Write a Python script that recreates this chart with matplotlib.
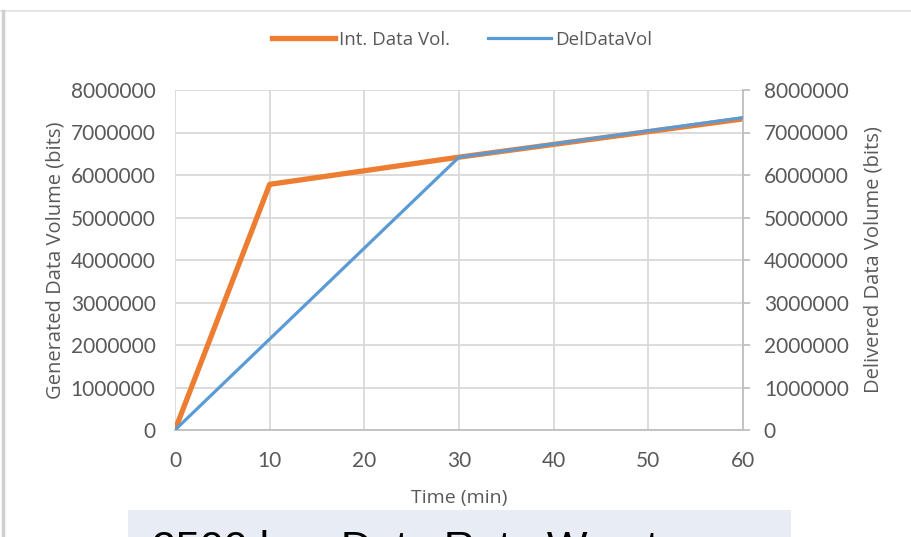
import matplotlib
matplotlib.use("Agg")
import matplotlib.pyplot as plt
from matplotlib.lines import Line2D
from matplotlib.patches import Rectangle

# Time axis (minutes) and cumulative data volumes (bits)
time_generated = [0, 10, 30, 60]
generated_volume = [0, 5780000, 6420000, 7320000]

time_delivered = [0, 30, 60]
delivered_volume = [0, 6420000, 7350000]

x_ticks = [0, 10, 20, 30, 40, 50, 60]
y_ticks = [0, 1000000, 2000000, 3000000, 4000000, 5000000, 6000000, 7000000, 8000000]

ORANGE = "#ED7D31"
BLUE = "#5B9BD5"
GRID = "#D9D9D9"
TEXT = "#595959"
LABEL_FONT = ["Open Sans", "DejaVu Sans"]

plt.rcParams["font.family"] = ["Lato", "DejaVu Sans"]

W, H = 912, 537
fig = plt.figure(figsize=(W / 100, H / 100), dpi=100)
fig.patch.set_facecolor("white")

left, right, bottom, top = 175, 743, 430, 90
ax = fig.add_axes([left / W, 1 - bottom / H, (right - left) / W, (bottom - top) / H])
ax2 = ax.twinx()

ax.plot(time_generated, generated_volume, color=ORANGE, lw=3.8,
        solid_joinstyle="round", solid_capstyle="butt", label="Int. Data Vol.", zorder=3)
ax2.plot(time_delivered, delivered_volume, color=BLUE, lw=2.3,
         solid_joinstyle="round", solid_capstyle="butt", label="DelDataVol", zorder=3)

for a in (ax, ax2):
    a.set_xlim(0, 60)
    a.set_ylim(0, 8000000)
    a.set_yticks(y_ticks)
    a.set_yticklabels([str(v) for v in y_ticks])
    for s in a.spines.values():
        s.set_visible(False)

ax.set_xticks(x_ticks)
ax.set_xticklabels([str(v) for v in x_ticks])
ax.grid(True, color=GRID, lw=1.3)
ax.set_axisbelow(True)
ax.spines["bottom"].set_visible(True)
ax.spines["bottom"].set_color("#BFBFBF")
ax.spines["bottom"].set_linewidth(1.3)
ax.tick_params(axis="x", length=0, pad=15, labelsize=15, labelcolor=TEXT)
ax.tick_params(axis="y", length=0, pad=14, labelsize=15, labelcolor=TEXT)

ax2.spines["right"].set_visible(True)
ax2.spines["right"].set_color("#BFBFBF")
ax2.spines["right"].set_linewidth(1.3)
ax2.tick_params(axis="y", length=5, width=1.3, color="#BFBFBF", pad=10,
                labelsize=15, labelcolor=TEXT)

ax.set_xlabel("Time (min)", fontsize=14, color=TEXT, labelpad=13, family=LABEL_FONT)
ax.set_ylabel("Generated Data Volume (bits)", fontsize=14.5, color=TEXT, labelpad=4,
              family=LABEL_FONT)
ax2.set_ylabel("Delivered Data Volume (bits)", fontsize=14.5, color=TEXT, labelpad=11,
               family=LABEL_FONT)

handles = [Line2D([], [], color=ORANGE, lw=3.8), Line2D([], [], color=BLUE, lw=2.3)]
fig.legend(handles, ["Int. Data Vol.", "DelDataVol"], loc="center",
           bbox_to_anchor=(462 / W, 1 - 40 / H), ncol=2, frameon=False,
           prop={"family": LABEL_FONT, "size": 13.5}, labelcolor=TEXT,
           handlelength=3.4, handletextpad=0.2, columnspacing=2.0)

# Slide frame edges
fig.add_artist(Line2D([0, 1], [1 - 11 / H, 1 - 11 / H], transform=fig.transFigure,
                      color="#E0E0E0", lw=1.2))
fig.add_artist(Line2D([3 / W, 3 / W], [0, 1 - 11 / H], transform=fig.transFigure,
                      color="#D0D0D0", lw=2.5))

# Caption box below the chart
fig.add_artist(Rectangle((128 / W, 0), (791 - 128) / W, 27 / H, transform=fig.transFigure,
                         facecolor="#E8ECF4", edgecolor="none"))
fig.text(152 / W, 1 - 561 / H, "2500 bps Data Rate Worst case", fontsize=31,
         family=["Liberation Sans", "DejaVu Sans"], color="black",
         ha="left", va="baseline")

fig.savefig("out.png", dpi=100)
